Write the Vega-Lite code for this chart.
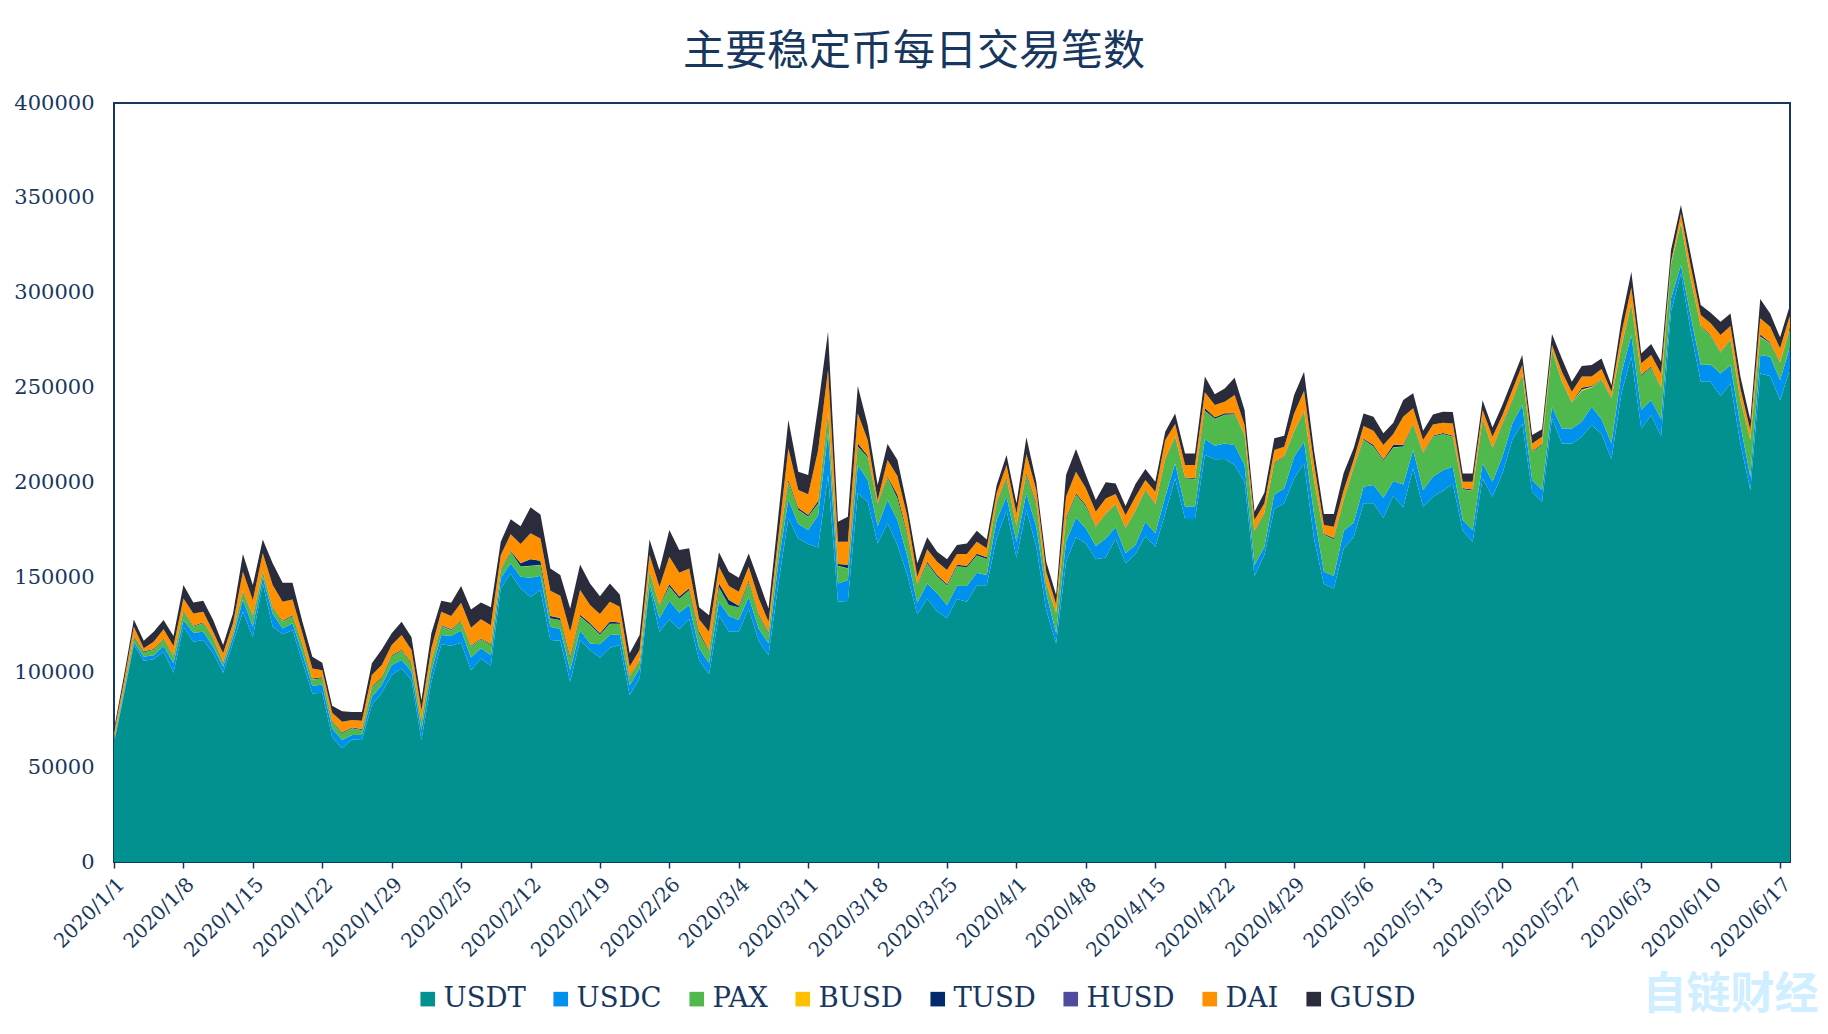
{
  "$schema": "https://vega.github.io/schema/vega-lite/v6.json",
  "title": {"text": "主要稳定币每日交易笔数", "font": "Noto Sans CJK SC", "fontSize": 42, "fontWeight": "normal", "color": "#17375e", "anchor": "middle", "frame": "group", "dx": -38, "offset": 18},
  "width": 1676,
  "height": 759,
  "autosize": "none",
  "padding": {"left": 114, "top": 103, "right": 38, "bottom": 172},
  "background": "white",
  "config": {"view": {"stroke": "#17375e", "strokeWidth": 2}},
  "layer": [
    {
      "data": {"values": [
{"date":"2020/1/1","USDT":62500,"USDC":1000,"PAX":1500,"BUSD":100,"TUSD":200,"HUSD":0,"DAI":2700,"GUSD":2000},
{"date":"2020/1/2","USDT":88000,"USDC":1500,"PAX":1500,"BUSD":100,"TUSD":300,"HUSD":50,"DAI":3550,"GUSD":3000},
{"date":"2020/1/3","USDT":114300,"USDC":1700,"PAX":2400,"BUSD":100,"TUSD":400,"HUSD":50,"DAI":5050,"GUSD":3800},
{"date":"2020/1/4","USDT":106100,"USDC":2100,"PAX":2300,"BUSD":100,"TUSD":400,"HUSD":50,"DAI":1550,"GUSD":4000},
{"date":"2020/1/5","USDT":106800,"USDC":2200,"PAX":2700,"BUSD":100,"TUSD":400,"HUSD":50,"DAI":3850,"GUSD":5300},
{"date":"2020/1/6","USDT":110800,"USDC":3000,"PAX":3500,"BUSD":100,"TUSD":400,"HUSD":50,"DAI":4750,"GUSD":4900},
{"date":"2020/1/7","USDT":99800,"USDC":4900,"PAX":3500,"BUSD":100,"TUSD":400,"HUSD":50,"DAI":5050,"GUSD":5300},
{"date":"2020/1/8","USDT":124000,"USDC":3500,"PAX":4400,"BUSD":100,"TUSD":400,"HUSD":50,"DAI":6450,"GUSD":7100},
{"date":"2020/1/9","USDT":116100,"USDC":4700,"PAX":3200,"BUSD":100,"TUSD":400,"HUSD":50,"DAI":6450,"GUSD":5800},
{"date":"2020/1/10","USDT":117000,"USDC":4400,"PAX":4400,"BUSD":100,"TUSD":400,"HUSD":50,"DAI":5550,"GUSD":5800},
{"date":"2020/1/11","USDT":110000,"USDC":3500,"PAX":4300,"BUSD":100,"TUSD":400,"HUSD":50,"DAI":3050,"GUSD":6100},
{"date":"2020/1/12","USDT":99800,"USDC":3100,"PAX":1800,"BUSD":100,"TUSD":400,"HUSD":50,"DAI":4750,"GUSD":4300},
{"date":"2020/1/13","USDT":115600,"USDC":2800,"PAX":2100,"BUSD":100,"TUSD":400,"HUSD":50,"DAI":4750,"GUSD":5200},
{"date":"2020/1/14","USDT":131900,"USDC":6500,"PAX":4000,"BUSD":100,"TUSD":400,"HUSD":50,"DAI":10050,"GUSD":9300},
{"date":"2020/1/15","USDT":118400,"USDC":5600,"PAX":5300,"BUSD":100,"TUSD":400,"HUSD":50,"DAI":8150,"GUSD":8000},
{"date":"2020/1/16","USDT":146800,"USDC":3500,"PAX":2700,"BUSD":100,"TUSD":400,"HUSD":50,"DAI":9150,"GUSD":7300},
{"date":"2020/1/17","USDT":124000,"USDC":7000,"PAX":2700,"BUSD":100,"TUSD":400,"HUSD":50,"DAI":11750,"GUSD":11400},
{"date":"2020/1/18","USDT":120000,"USDC":3100,"PAX":3500,"BUSD":100,"TUSD":400,"HUSD":50,"DAI":10050,"GUSD":10000},
{"date":"2020/1/19","USDT":122200,"USDC":3600,"PAX":3800,"BUSD":100,"TUSD":400,"HUSD":50,"DAI":8250,"GUSD":8800},
{"date":"2020/1/20","USDT":105500,"USDC":4500,"PAX":4300,"BUSD":100,"TUSD":400,"HUSD":50,"DAI":5650,"GUSD":6100},
{"date":"2020/1/21","USDT":88800,"USDC":3900,"PAX":3500,"BUSD":100,"TUSD":400,"HUSD":50,"DAI":5250,"GUSD":6200},
{"date":"2020/1/22","USDT":89200,"USDC":4400,"PAX":3200,"BUSD":100,"TUSD":400,"HUSD":50,"DAI":3750,"GUSD":3900},
{"date":"2020/1/23","USDT":65700,"USDC":4700,"PAX":3500,"BUSD":100,"TUSD":400,"HUSD":50,"DAI":4150,"GUSD":3700},
{"date":"2020/1/24","USDT":59900,"USDC":4400,"PAX":3500,"BUSD":100,"TUSD":400,"HUSD":50,"DAI":5550,"GUSD":5600},
{"date":"2020/1/25","USDT":64600,"USDC":2300,"PAX":3500,"BUSD":100,"TUSD":400,"HUSD":50,"DAI":3850,"GUSD":4200},
{"date":"2020/1/26","USDT":64300,"USDC":2600,"PAX":2600,"BUSD":100,"TUSD":400,"HUSD":50,"DAI":4350,"GUSD":4600},
{"date":"2020/1/27","USDT":82700,"USDC":4400,"PAX":4900,"BUSD":100,"TUSD":400,"HUSD":50,"DAI":5950,"GUSD":6200},
{"date":"2020/1/28","USDT":89200,"USDC":4100,"PAX":3500,"BUSD":100,"TUSD":400,"HUSD":50,"DAI":6450,"GUSD":8200},
{"date":"2020/1/29","USDT":98500,"USDC":5300,"PAX":4700,"BUSD":100,"TUSD":400,"HUSD":50,"DAI":5250,"GUSD":6200},
{"date":"2020/1/30","USDT":102000,"USDC":4400,"PAX":4900,"BUSD":100,"TUSD":400,"HUSD":50,"DAI":7750,"GUSD":7000},
{"date":"2020/1/31","USDT":95900,"USDC":4400,"PAX":4400,"BUSD":100,"TUSD":400,"HUSD":50,"DAI":6450,"GUSD":6700},
{"date":"2020/2/1","USDT":64300,"USDC":5200,"PAX":4400,"BUSD":100,"TUSD":400,"HUSD":50,"DAI":5650,"GUSD":5200},
{"date":"2020/2/2","USDT":95000,"USDC":5300,"PAX":5200,"BUSD":100,"TUSD":400,"HUSD":50,"DAI":6550,"GUSD":7900},
{"date":"2020/2/3","USDT":114700,"USDC":4900,"PAX":4700,"BUSD":100,"TUSD":400,"HUSD":50,"DAI":7050,"GUSD":5800},
{"date":"2020/2/4","USDT":114000,"USDC":5100,"PAX":3100,"BUSD":100,"TUSD":400,"HUSD":50,"DAI":6850,"GUSD":7000},
{"date":"2020/2/5","USDT":115600,"USDC":6600,"PAX":4400,"BUSD":100,"TUSD":400,"HUSD":50,"DAI":9450,"GUSD":8800},
{"date":"2020/2/6","USDT":101100,"USDC":6700,"PAX":5700,"BUSD":100,"TUSD":400,"HUSD":50,"DAI":9450,"GUSD":9600},
{"date":"2020/2/7","USDT":107300,"USDC":5300,"PAX":4700,"BUSD":100,"TUSD":400,"HUSD":50,"DAI":10050,"GUSD":8900},
{"date":"2020/2/8","USDT":103400,"USDC":5600,"PAX":5300,"BUSD":100,"TUSD":400,"HUSD":50,"DAI":9950,"GUSD":9400},
{"date":"2020/2/9","USDT":144200,"USDC":5300,"PAX":4000,"BUSD":100,"TUSD":400,"HUSD":50,"DAI":7750,"GUSD":7000},
{"date":"2020/2/10","USDT":152100,"USDC":5300,"PAX":6100,"BUSD":100,"TUSD":400,"HUSD":50,"DAI":8650,"GUSD":7900},
{"date":"2020/2/11","USDT":144200,"USDC":6100,"PAX":5300,"BUSD":100,"TUSD":1800,"HUSD":50,"DAI":10050,"GUSD":9400},
{"date":"2020/2/12","USDT":139800,"USDC":10000,"PAX":6200,"BUSD":100,"TUSD":3500,"HUSD":50,"DAI":13550,"GUSD":13700},
{"date":"2020/2/13","USDT":143300,"USDC":7600,"PAX":5600,"BUSD":100,"TUSD":2100,"HUSD":50,"DAI":11750,"GUSD":12700},
{"date":"2020/2/14","USDT":117000,"USDC":7000,"PAX":4400,"BUSD":100,"TUSD":1200,"HUSD":50,"DAI":13250,"GUSD":11700},
{"date":"2020/2/15","USDT":116600,"USDC":6200,"PAX":4700,"BUSD":100,"TUSD":900,"HUSD":50,"DAI":11750,"GUSD":10900},
{"date":"2020/2/16","USDT":95000,"USDC":6100,"PAX":6200,"BUSD":100,"TUSD":1000,"HUSD":50,"DAI":12950,"GUSD":12200},
{"date":"2020/2/17","USDT":117000,"USDC":5200,"PAX":7100,"BUSD":100,"TUSD":900,"HUSD":50,"DAI":12950,"GUSD":13500},
{"date":"2020/2/18","USDT":111700,"USDC":3500,"PAX":9700,"BUSD":100,"TUSD":900,"HUSD":50,"DAI":9450,"GUSD":11400},
{"date":"2020/2/19","USDT":107700,"USDC":7000,"PAX":4900,"BUSD":100,"TUSD":900,"HUSD":50,"DAI":10050,"GUSD":9400},
{"date":"2020/2/20","USDT":112900,"USDC":6700,"PAX":5800,"BUSD":100,"TUSD":1200,"HUSD":50,"DAI":10450,"GUSD":9600},
{"date":"2020/2/21","USDT":114300,"USDC":5700,"PAX":5400,"BUSD":100,"TUSD":700,"HUSD":50,"DAI":8250,"GUSD":6500},
{"date":"2020/2/22","USDT":88000,"USDC":5200,"PAX":4400,"BUSD":100,"TUSD":400,"HUSD":50,"DAI":4850,"GUSD":7000},
{"date":"2020/2/23","USDT":96800,"USDC":5200,"PAX":3500,"BUSD":100,"TUSD":400,"HUSD":50,"DAI":5650,"GUSD":7900},
{"date":"2020/2/24","USDT":145000,"USDC":1800,"PAX":6200,"BUSD":100,"TUSD":400,"HUSD":50,"DAI":8250,"GUSD":8200},
{"date":"2020/2/25","USDT":121400,"USDC":7000,"PAX":6500,"BUSD":100,"TUSD":400,"HUSD":50,"DAI":9650,"GUSD":8800},
{"date":"2020/2/26","USDT":127800,"USDC":9900,"PAX":7400,"BUSD":100,"TUSD":1200,"HUSD":50,"DAI":14450,"GUSD":14100},
{"date":"2020/2/27","USDT":122600,"USDC":8800,"PAX":7200,"BUSD":100,"TUSD":1200,"HUSD":50,"DAI":12550,"GUSD":11900},
{"date":"2020/2/28","USDT":128000,"USDC":7400,"PAX":7900,"BUSD":100,"TUSD":900,"HUSD":50,"DAI":10350,"GUSD":10600},
{"date":"2020/2/29","USDT":106400,"USDC":6200,"PAX":7900,"BUSD":100,"TUSD":900,"HUSD":50,"DAI":6350,"GUSD":6300},
{"date":"2020/3/1","USDT":99000,"USDC":5700,"PAX":6100,"BUSD":100,"TUSD":600,"HUSD":50,"DAI":9850,"GUSD":8700},
{"date":"2020/3/2","USDT":130100,"USDC":7100,"PAX":7500,"BUSD":100,"TUSD":2100,"HUSD":50,"DAI":8650,"GUSD":7600},
{"date":"2020/3/3","USDT":121400,"USDC":8200,"PAX":5800,"BUSD":100,"TUSD":2600,"HUSD":50,"DAI":7250,"GUSD":7600},
{"date":"2020/3/4","USDT":121400,"USDC":6100,"PAX":6700,"BUSD":100,"TUSD":700,"HUSD":50,"DAI":7350,"GUSD":7400},
{"date":"2020/3/5","USDT":133600,"USDC":6200,"PAX":7600,"BUSD":100,"TUSD":800,"HUSD":50,"DAI":7250,"GUSD":7000},
{"date":"2020/3/6","USDT":116600,"USDC":6500,"PAX":7000,"BUSD":100,"TUSD":600,"HUSD":50,"DAI":8150,"GUSD":9200},
{"date":"2020/3/7","USDT":109000,"USDC":6200,"PAX":5300,"BUSD":100,"TUSD":400,"HUSD":50,"DAI":5550,"GUSD":7000},
{"date":"2020/3/8","USDT":147000,"USDC":11000,"PAX":7000,"BUSD":100,"TUSD":600,"HUSD":50,"DAI":6250,"GUSD":11000},
{"date":"2020/3/9","USDT":181100,"USDC":10000,"PAX":9300,"BUSD":100,"TUSD":900,"HUSD":50,"DAI":16550,"GUSD":14900},
{"date":"2020/3/10","USDT":170500,"USDC":7600,"PAX":7400,"BUSD":100,"TUSD":900,"HUSD":50,"DAI":9450,"GUSD":9700},
{"date":"2020/3/11","USDT":167600,"USDC":7400,"PAX":7000,"BUSD":100,"TUSD":800,"HUSD":50,"DAI":10850,"GUSD":10200},
{"date":"2020/3/12","USDT":165800,"USDC":17000,"PAX":6200,"BUSD":100,"TUSD":1200,"HUSD":50,"DAI":26650,"GUSD":23000},
{"date":"2020/3/13","USDT":204000,"USDC":21900,"PAX":10500,"BUSD":100,"TUSD":900,"HUSD":50,"DAI":21850,"GUSD":20200},
{"date":"2020/3/14","USDT":137200,"USDC":9600,"PAX":9200,"BUSD":100,"TUSD":900,"HUSD":50,"DAI":11750,"GUSD":10500},
{"date":"2020/3/15","USDT":137500,"USDC":11100,"PAX":6100,"BUSD":100,"TUSD":1800,"HUSD":50,"DAI":12150,"GUSD":13200},
{"date":"2020/3/16","USDT":194300,"USDC":14900,"PAX":9700,"BUSD":100,"TUSD":1700,"HUSD":50,"DAI":15650,"GUSD":14400},
{"date":"2020/3/17","USDT":189900,"USDC":11400,"PAX":11900,"BUSD":100,"TUSD":800,"HUSD":50,"DAI":8250,"GUSD":7900},
{"date":"2020/3/18","USDT":167900,"USDC":9100,"PAX":11100,"BUSD":100,"TUSD":500,"HUSD":50,"DAI":1950,"GUSD":8000},
{"date":"2020/3/19","USDT":178500,"USDC":12300,"PAX":11700,"BUSD":100,"TUSD":500,"HUSD":50,"DAI":8650,"GUSD":8500},
{"date":"2020/3/20","USDT":167000,"USDC":13200,"PAX":11400,"BUSD":100,"TUSD":1800,"HUSD":50,"DAI":9850,"GUSD":8400},
{"date":"2020/3/21","USDT":151200,"USDC":9800,"PAX":11300,"BUSD":100,"TUSD":900,"HUSD":50,"DAI":8650,"GUSD":5200},
{"date":"2020/3/22","USDT":130500,"USDC":6100,"PAX":9300,"BUSD":100,"TUSD":400,"HUSD":50,"DAI":3850,"GUSD":7100},
{"date":"2020/3/23","USDT":138900,"USDC":7900,"PAX":10500,"BUSD":100,"TUSD":900,"HUSD":50,"DAI":6450,"GUSD":6300},
{"date":"2020/3/24","USDT":132000,"USDC":9600,"PAX":8700,"BUSD":100,"TUSD":900,"HUSD":50,"DAI":6850,"GUSD":5300},
{"date":"2020/3/25","USDT":128400,"USDC":7000,"PAX":10200,"BUSD":100,"TUSD":700,"HUSD":50,"DAI":7450,"GUSD":5600},
{"date":"2020/3/26","USDT":138600,"USDC":7000,"PAX":10100,"BUSD":100,"TUSD":800,"HUSD":50,"DAI":5650,"GUSD":4700},
{"date":"2020/3/27","USDT":137200,"USDC":8200,"PAX":9900,"BUSD":100,"TUSD":700,"HUSD":50,"DAI":6150,"GUSD":5600},
{"date":"2020/3/28","USDT":145900,"USDC":6500,"PAX":9000,"BUSD":100,"TUSD":900,"HUSD":50,"DAI":6350,"GUSD":5800},
{"date":"2020/3/29","USDT":145900,"USDC":5300,"PAX":8400,"BUSD":100,"TUSD":900,"HUSD":50,"DAI":4650,"GUSD":4700},
{"date":"2020/3/30","USDT":170500,"USDC":9700,"PAX":8800,"BUSD":100,"TUSD":400,"HUSD":50,"DAI":4750,"GUSD":4300},
{"date":"2020/3/31","USDT":185500,"USDC":7000,"PAX":9000,"BUSD":100,"TUSD":700,"HUSD":50,"DAI":6850,"GUSD":5300},
{"date":"2020/4/1","USDT":160500,"USDC":8300,"PAX":7900,"BUSD":100,"TUSD":400,"HUSD":50,"DAI":6450,"GUSD":5300},
{"date":"2020/4/2","USDT":185500,"USDC":8800,"PAX":9700,"BUSD":100,"TUSD":800,"HUSD":50,"DAI":10050,"GUSD":8800},
{"date":"2020/4/3","USDT":166200,"USDC":10500,"PAX":11500,"BUSD":100,"TUSD":800,"HUSD":50,"DAI":6850,"GUSD":4400},
{"date":"2020/4/4","USDT":132800,"USDC":8800,"PAX":5200,"BUSD":100,"TUSD":300,"HUSD":50,"DAI":5750,"GUSD":5200},
{"date":"2020/4/5","USDT":115200,"USDC":5300,"PAX":10500,"BUSD":100,"TUSD":300,"HUSD":50,"DAI":4450,"GUSD":4800},
{"date":"2020/4/6","USDT":158200,"USDC":10600,"PAX":11500,"BUSD":100,"TUSD":800,"HUSD":50,"DAI":11250,"GUSD":11400},
{"date":"2020/4/7","USDT":171100,"USDC":10500,"PAX":12000,"BUSD":100,"TUSD":700,"HUSD":50,"DAI":11250,"GUSD":11900},
{"date":"2020/4/8","USDT":167900,"USDC":7900,"PAX":11400,"BUSD":100,"TUSD":800,"HUSD":50,"DAI":8850,"GUSD":6900},
{"date":"2020/4/9","USDT":159500,"USDC":7000,"PAX":9800,"BUSD":100,"TUSD":400,"HUSD":50,"DAI":7750,"GUSD":6200},
{"date":"2020/4/10","USDT":160500,"USDC":10000,"PAX":12900,"BUSD":100,"TUSD":300,"HUSD":50,"DAI":7750,"GUSD":8500},
{"date":"2020/4/11","USDT":170500,"USDC":5900,"PAX":12000,"BUSD":100,"TUSD":200,"HUSD":50,"DAI":5150,"GUSD":5600},
{"date":"2020/4/12","USDT":157400,"USDC":5300,"PAX":13000,"BUSD":100,"TUSD":200,"HUSD":50,"DAI":6750,"GUSD":4800},
{"date":"2020/4/13","USDT":162300,"USDC":4700,"PAX":18000,"BUSD":100,"TUSD":200,"HUSD":50,"DAI":7150,"GUSD":6700},
{"date":"2020/4/14","USDT":171800,"USDC":7500,"PAX":16500,"BUSD":100,"TUSD":300,"HUSD":50,"DAI":5050,"GUSD":5800},
{"date":"2020/4/15","USDT":166200,"USDC":7000,"PAX":14900,"BUSD":100,"TUSD":300,"HUSD":50,"DAI":6550,"GUSD":5300},
{"date":"2020/4/16","USDT":183700,"USDC":8800,"PAX":19300,"BUSD":100,"TUSD":300,"HUSD":50,"DAI":10150,"GUSD":4400},
{"date":"2020/4/17","USDT":202200,"USDC":7900,"PAX":14000,"BUSD":100,"TUSD":300,"HUSD":50,"DAI":6250,"GUSD":5600},
{"date":"2020/4/18","USDT":180700,"USDC":6500,"PAX":15000,"BUSD":100,"TUSD":300,"HUSD":50,"DAI":6550,"GUSD":6100},
{"date":"2020/4/19","USDT":180700,"USDC":6500,"PAX":14500,"BUSD":100,"TUSD":500,"HUSD":50,"DAI":6850,"GUSD":6100},
{"date":"2020/4/20","USDT":214500,"USDC":8400,"PAX":14800,"BUSD":100,"TUSD":1400,"HUSD":50,"DAI":8250,"GUSD":8300},
{"date":"2020/4/21","USDT":212200,"USDC":7200,"PAX":14100,"BUSD":100,"TUSD":800,"HUSD":50,"DAI":6350,"GUSD":5700},
{"date":"2020/4/22","USDT":212400,"USDC":8200,"PAX":15000,"BUSD":100,"TUSD":800,"HUSD":50,"DAI":6050,"GUSD":7000},
{"date":"2020/4/23","USDT":209200,"USDC":10500,"PAX":16200,"BUSD":100,"TUSD":500,"HUSD":50,"DAI":9550,"GUSD":9100},
{"date":"2020/4/24","USDT":200400,"USDC":8800,"PAX":15800,"BUSD":100,"TUSD":100,"HUSD":50,"DAI":5050,"GUSD":7900},
{"date":"2020/4/25","USDT":150700,"USDC":5800,"PAX":17500,"BUSD":100,"TUSD":300,"HUSD":50,"DAI":5750,"GUSD":4400},
{"date":"2020/4/26","USDT":161800,"USDC":4400,"PAX":17500,"BUSD":100,"TUSD":300,"HUSD":50,"DAI":4850,"GUSD":5600},
{"date":"2020/4/27","USDT":186000,"USDC":7700,"PAX":16400,"BUSD":100,"TUSD":300,"HUSD":50,"DAI":6550,"GUSD":6200},
{"date":"2020/4/28","USDT":189000,"USDC":7900,"PAX":16700,"BUSD":100,"TUSD":300,"HUSD":50,"DAI":4850,"GUSD":5800},
{"date":"2020/4/29","USDT":202200,"USDC":11400,"PAX":13200,"BUSD":100,"TUSD":300,"HUSD":50,"DAI":9150,"GUSD":9700},
{"date":"2020/4/30","USDT":210100,"USDC":11400,"PAX":15800,"BUSD":100,"TUSD":300,"HUSD":50,"DAI":10650,"GUSD":10000},
{"date":"2020/5/1","USDT":170500,"USDC":13200,"PAX":17600,"BUSD":100,"TUSD":200,"HUSD":50,"DAI":8450,"GUSD":7000},
{"date":"2020/5/2","USDT":146500,"USDC":6500,"PAX":19300,"BUSD":100,"TUSD":500,"HUSD":50,"DAI":4650,"GUSD":5800},
{"date":"2020/5/3","USDT":144200,"USDC":6500,"PAX":19300,"BUSD":100,"TUSD":700,"HUSD":50,"DAI":5850,"GUSD":6700},
{"date":"2020/5/4","USDT":165300,"USDC":9300,"PAX":16100,"BUSD":100,"TUSD":300,"HUSD":50,"DAI":4850,"GUSD":9100},
{"date":"2020/5/5","USDT":171100,"USDC":7700,"PAX":28600,"BUSD":100,"TUSD":300,"HUSD":50,"DAI":3950,"GUSD":6200},
{"date":"2020/5/6","USDT":189000,"USDC":8800,"PAX":24600,"BUSD":100,"TUSD":600,"HUSD":50,"DAI":6650,"GUSD":6600},
{"date":"2020/5/7","USDT":189000,"USDC":9700,"PAX":20200,"BUSD":100,"TUSD":800,"HUSD":50,"DAI":7450,"GUSD":7400},
{"date":"2020/5/8","USDT":181400,"USDC":10600,"PAX":19300,"BUSD":100,"TUSD":700,"HUSD":50,"DAI":7550,"GUSD":6200},
{"date":"2020/5/9","USDT":193000,"USDC":7800,"PAX":17700,"BUSD":100,"TUSD":1300,"HUSD":50,"DAI":5550,"GUSD":6000},
{"date":"2020/5/10","USDT":186900,"USDC":12100,"PAX":19900,"BUSD":100,"TUSD":800,"HUSD":50,"DAI":14850,"GUSD":8800},
{"date":"2020/5/11","USDT":207500,"USDC":9600,"PAX":13500,"BUSD":100,"TUSD":400,"HUSD":50,"DAI":7950,"GUSD":7900},
{"date":"2020/5/12","USDT":187200,"USDC":8800,"PAX":19300,"BUSD":100,"TUSD":400,"HUSD":50,"DAI":6550,"GUSD":4900},
{"date":"2020/5/13","USDT":192500,"USDC":10500,"PAX":21100,"BUSD":100,"TUSD":500,"HUSD":50,"DAI":5850,"GUSD":5300},
{"date":"2020/5/14","USDT":195600,"USDC":10900,"PAX":19000,"BUSD":100,"TUSD":500,"HUSD":50,"DAI":5350,"GUSD":5800},
{"date":"2020/5/15","USDT":199200,"USDC":9100,"PAX":15800,"BUSD":100,"TUSD":500,"HUSD":50,"DAI":6350,"GUSD":6000},
{"date":"2020/5/16","USDT":174600,"USDC":5600,"PAX":16100,"BUSD":100,"TUSD":600,"HUSD":50,"DAI":3350,"GUSD":4400},
{"date":"2020/5/17","USDT":168800,"USDC":6100,"PAX":20800,"BUSD":100,"TUSD":500,"HUSD":50,"DAI":4050,"GUSD":4400},
{"date":"2020/5/18","USDT":202100,"USDC":8000,"PAX":22800,"BUSD":100,"TUSD":300,"HUSD":50,"DAI":4850,"GUSD":5200},
{"date":"2020/5/19","USDT":192500,"USDC":7900,"PAX":17500,"BUSD":100,"TUSD":300,"HUSD":50,"DAI":5750,"GUSD":4900},
{"date":"2020/5/20","USDT":204800,"USDC":8800,"PAX":16700,"BUSD":100,"TUSD":500,"HUSD":50,"DAI":4550,"GUSD":5300},
{"date":"2020/5/21","USDT":222400,"USDC":8700,"PAX":11500,"BUSD":100,"TUSD":500,"HUSD":50,"DAI":5450,"GUSD":5300},
{"date":"2020/5/22","USDT":231100,"USDC":9700,"PAX":15800,"BUSD":100,"TUSD":300,"HUSD":50,"DAI":4850,"GUSD":5300},
{"date":"2020/5/23","USDT":195100,"USDC":6200,"PAX":14900,"BUSD":100,"TUSD":400,"HUSD":50,"DAI":3850,"GUSD":4400},
{"date":"2020/5/24","USDT":189900,"USDC":6100,"PAX":23700,"BUSD":100,"TUSD":400,"HUSD":50,"DAI":3850,"GUSD":3900},
{"date":"2020/5/25","USDT":233800,"USDC":6100,"PAX":29900,"BUSD":100,"TUSD":200,"HUSD":50,"DAI":2250,"GUSD":5800},
{"date":"2020/5/26","USDT":220600,"USDC":7900,"PAX":24600,"BUSD":100,"TUSD":200,"HUSD":50,"DAI":4950,"GUSD":7000},
{"date":"2020/5/27","USDT":220600,"USDC":7900,"PAX":13500,"BUSD":100,"TUSD":300,"HUSD":50,"DAI":5350,"GUSD":5300},
{"date":"2020/5/28","USDT":224100,"USDC":7900,"PAX":16400,"BUSD":600,"TUSD":1000,"HUSD":50,"DAI":5750,"GUSD":5600},
{"date":"2020/5/29","USDT":230300,"USDC":9600,"PAX":10200,"BUSD":300,"TUSD":500,"HUSD":50,"DAI":4850,"GUSD":6100},
{"date":"2020/5/30","USDT":225500,"USDC":7800,"PAX":20700,"BUSD":100,"TUSD":300,"HUSD":50,"DAI":5350,"GUSD":5600},
{"date":"2020/5/31","USDT":212200,"USDC":8400,"PAX":23700,"BUSD":100,"TUSD":300,"HUSD":50,"DAI":3050,"GUSD":3500},
{"date":"2020/6/1","USDT":247000,"USDC":10500,"PAX":14100,"BUSD":100,"TUSD":200,"HUSD":50,"DAI":6650,"GUSD":7000},
{"date":"2020/6/2","USDT":266300,"USDC":11400,"PAX":16300,"BUSD":100,"TUSD":200,"HUSD":50,"DAI":8450,"GUSD":8300},
{"date":"2020/6/3","USDT":228500,"USDC":9700,"PAX":18000,"BUSD":100,"TUSD":500,"HUSD":50,"DAI":5950,"GUSD":5200},
{"date":"2020/6/4","USDT":235500,"USDC":7900,"PAX":17100,"BUSD":100,"TUSD":500,"HUSD":50,"DAI":6050,"GUSD":5800},
{"date":"2020/6/5","USDT":224500,"USDC":8800,"PAX":16300,"BUSD":100,"TUSD":300,"HUSD":50,"DAI":7450,"GUSD":6100},
{"date":"2020/6/6","USDT":290000,"USDC":7000,"PAX":17600,"BUSD":100,"TUSD":100,"HUSD":50,"DAI":1550,"GUSD":6100},
{"date":"2020/6/7","USDT":310200,"USDC":4400,"PAX":22000,"BUSD":100,"TUSD":100,"HUSD":50,"DAI":4950,"GUSD":4400},
{"date":"2020/6/8","USDT":279500,"USDC":7900,"PAX":19300,"BUSD":100,"TUSD":200,"HUSD":50,"DAI":6650,"GUSD":6200},
{"date":"2020/6/9","USDT":253100,"USDC":8800,"PAX":20200,"BUSD":100,"TUSD":400,"HUSD":50,"DAI":5650,"GUSD":5200},
{"date":"2020/6/10","USDT":253100,"USDC":9100,"PAX":15000,"BUSD":100,"TUSD":400,"HUSD":50,"DAI":6150,"GUSD":5600},
{"date":"2020/6/11","USDT":245600,"USDC":11900,"PAX":10900,"BUSD":100,"TUSD":300,"HUSD":50,"DAI":8850,"GUSD":7000},
{"date":"2020/6/12","USDT":252200,"USDC":9700,"PAX":13200,"BUSD":100,"TUSD":300,"HUSD":50,"DAI":6950,"GUSD":6600},
{"date":"2020/6/13","USDT":220600,"USDC":9700,"PAX":13100,"BUSD":100,"TUSD":200,"HUSD":50,"DAI":5850,"GUSD":6200},
{"date":"2020/6/14","USDT":196000,"USDC":7000,"PAX":19400,"BUSD":100,"TUSD":200,"HUSD":50,"DAI":4850,"GUSD":5300},
{"date":"2020/6/15","USDT":257500,"USDC":9700,"PAX":9300,"BUSD":500,"TUSD":1000,"HUSD":150,"DAI":8350,"GUSD":10200},
{"date":"2020/6/16","USDT":256100,"USDC":10200,"PAX":7000,"BUSD":100,"TUSD":400,"HUSD":50,"DAI":8250,"GUSD":7000},
{"date":"2020/6/17","USDT":243400,"USDC":10600,"PAX":9100,"BUSD":100,"TUSD":200,"HUSD":50,"DAI":7250,"GUSD":5800},
{"date":"2020/6/18","USDT":260100,"USDC":11500,"PAX":9600,"BUSD":100,"TUSD":300,"HUSD":50,"DAI":6650,"GUSD":5200}
      ]},
      "transform": [
        {"fold": ["USDT", "USDC", "PAX", "BUSD", "TUSD", "HUSD", "DAI", "GUSD"], "as": ["coin", "count"]},
        {"lookup": "coin", "from": {"data": {"values": [
          {"coin": "USDT", "rank": 1}, {"coin": "USDC", "rank": 2}, {"coin": "PAX", "rank": 3}, {"coin": "BUSD", "rank": 4},
          {"coin": "TUSD", "rank": 5}, {"coin": "HUSD", "rank": 6}, {"coin": "DAI", "rank": 7}, {"coin": "GUSD", "rank": 8}
        ]}, "key": "coin", "fields": ["rank"]}}
      ],
      "mark": {"type": "area", "interpolate": "linear"},
      "encoding": {
        "x": {
          "field": "date",
          "type": "ordinal",
          "sort": null,
          "title": null,
          "scale": {"type": "point", "padding": 0},
          "axis": {
            "values": ["2020/1/1","2020/1/8","2020/1/15","2020/1/22","2020/1/29","2020/2/5","2020/2/12","2020/2/19","2020/2/26","2020/3/4","2020/3/11","2020/3/18","2020/3/25","2020/4/1","2020/4/8","2020/4/15","2020/4/22","2020/4/29","2020/5/6","2020/5/13","2020/5/20","2020/5/27","2020/6/3","2020/6/10","2020/6/17"],
            "labelAngle": -45,
            "labelFont": "DejaVu Serif",
            "labelFontSize": 20,
            "labelColor": "#17375e",
            "labelOverlap": false,
            "labelBound": false,
            "labelPadding": 6,
            "domain": false,
            "grid": false,
            "tickColor": "#17375e",
            "tickSize": 6,
            "tickWidth": 1.5
          }
        },
        "y": {
          "field": "count",
          "type": "quantitative",
          "stack": "zero",
          "title": null,
          "scale": {"domain": [0, 400000], "nice": false},
          "axis": {
            "values": [0, 50000, 100000, 150000, 200000, 250000, 300000, 350000, 400000],
            "format": "d",
            "labelFont": "DejaVu Serif",
            "labelFontSize": 21,
            "labelColor": "#17375e",
            "labelPadding": 20,
            "domain": false,
            "grid": false,
            "ticks": false
          }
        },
        "color": {
          "field": "coin",
          "type": "nominal",
          "scale": {
            "domain": ["USDT", "USDC", "PAX", "BUSD", "TUSD", "HUSD", "DAI", "GUSD"],
            "range": ["#019191", "#0090ee", "#4fb94e", "#ffc000", "#002a6b", "#4f4b9e", "#ff9000", "#2a2c3c"]
          },
          "legend": {
            "title": null,
            "orient": "none",
            "direction": "horizontal",
            "columns": 8,
            "legendX": 300,
            "legendY": 882,
            "symbolType": "square",
            "symbolSize": 213,
            "symbolStrokeWidth": 0,
            "labelFont": "DejaVu Serif",
            "labelFontSize": 27.5,
            "labelColor": "#17375e",
            "labelOffset": 2,
            "columnPadding": 21,
            "labelLimit": 200
          }
        },
        "order": {"field": "rank", "type": "quantitative", "sort": "ascending"}
      }
    },
    {
      "data": {"values": [{"date": "2020/6/12", "label": "自链财经", "pos": -70500}]},
      "mark": {"type": "text", "font": "Noto Sans CJK SC", "fontSize": 44, "fontWeight": "bold", "color": "#cfeeff", "align": "center", "baseline": "middle"},
      "encoding": {
        "x": {"field": "date", "type": "ordinal", "sort": null, "title": null, "scale": {"type": "point", "padding": 0}},
        "y": {"field": "pos", "type": "quantitative", "title": null, "scale": {"domain": [0, 400000], "nice": false}},
        "text": {"field": "label"}
      }
    }
  ]
}
